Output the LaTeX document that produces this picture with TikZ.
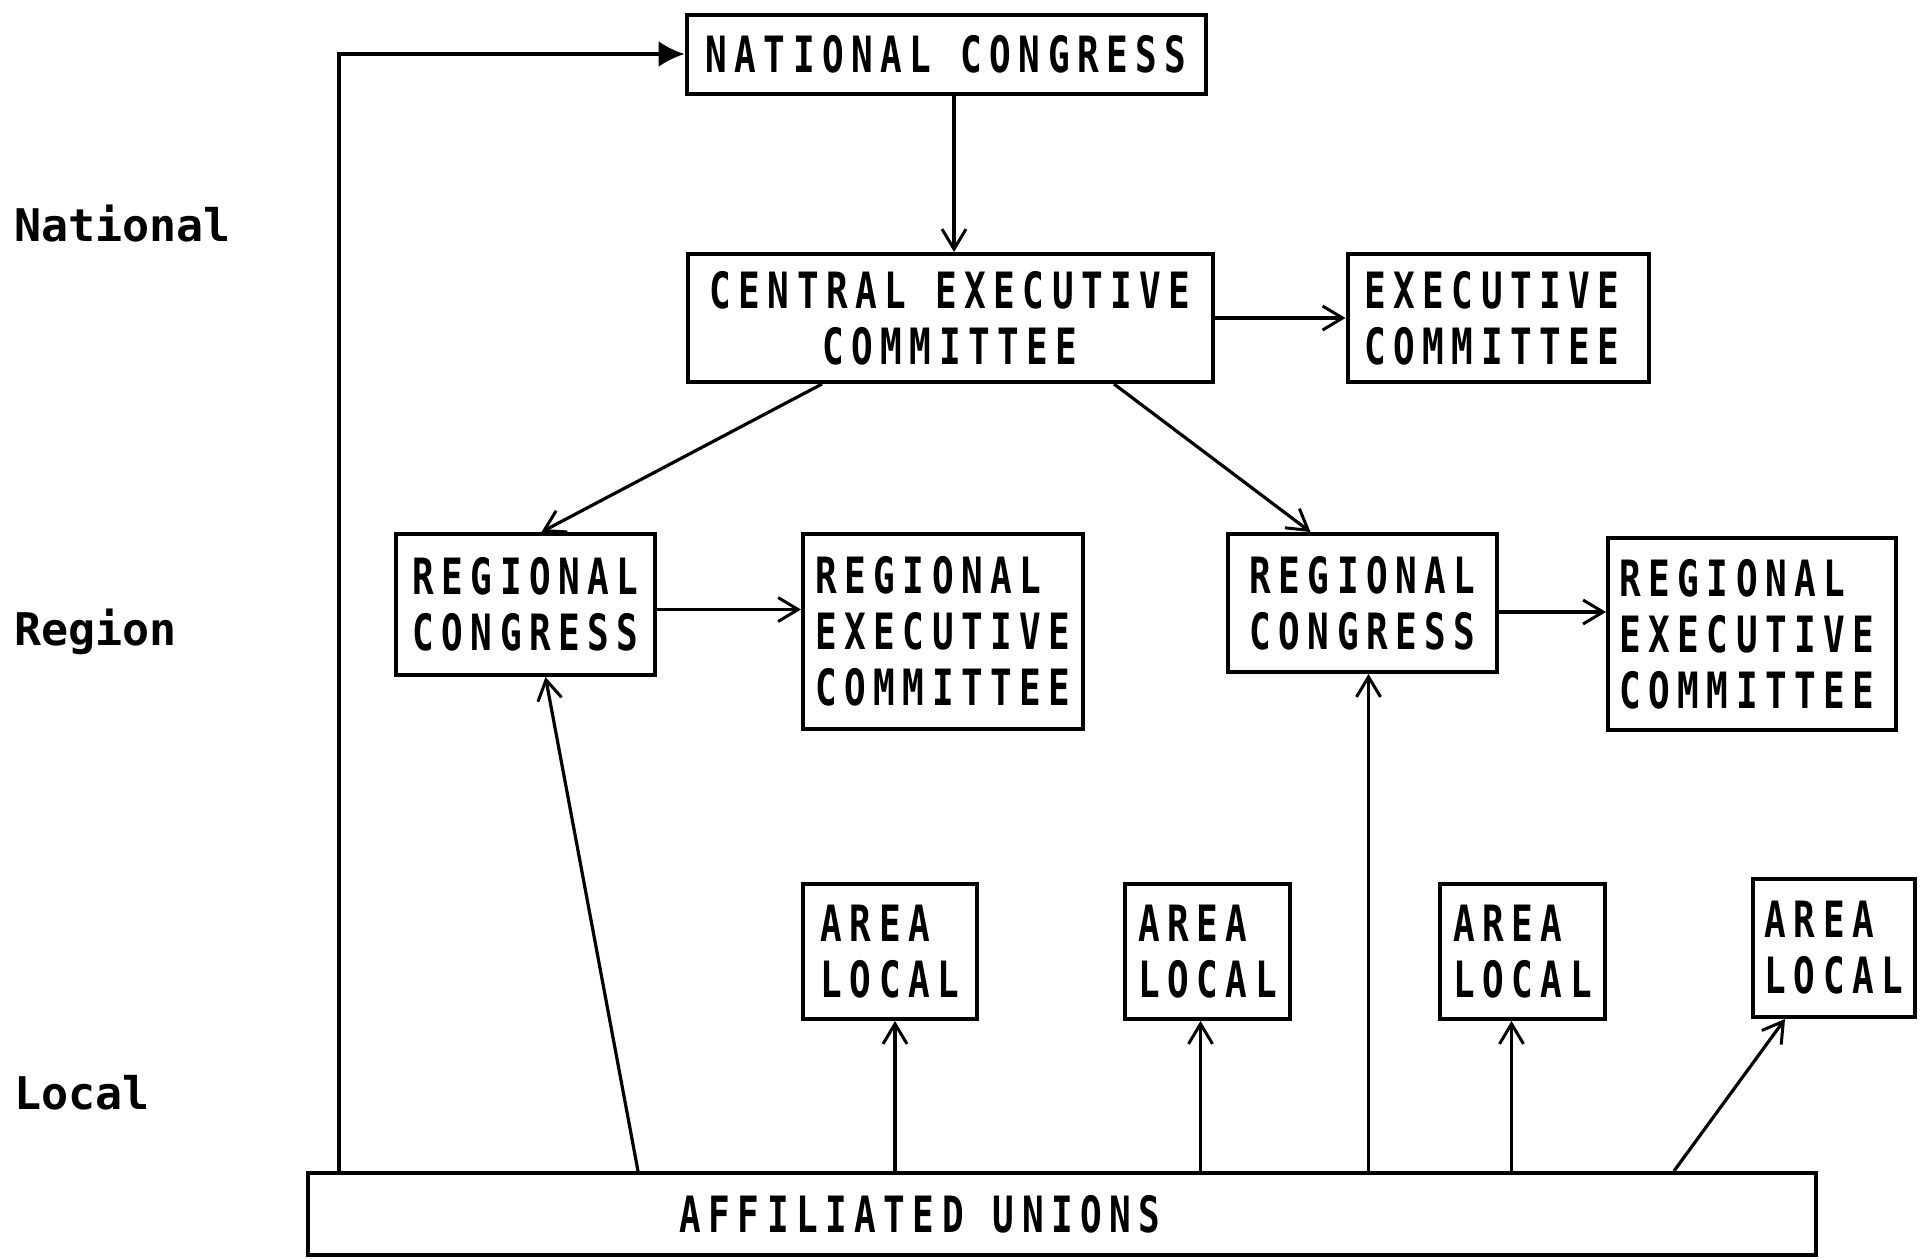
\documentclass[tikz,border=0pt]{standalone}
\usepackage{fontspec}
\usetikzlibrary{arrows.meta,calc}
% lettering for the boxes and the typewritten level names
\newfontfamily\boxfont[FakeStretch=0.72,LetterSpace=15]{DejaVu Sans Mono Bold}
\newfontfamily\levelfont{DejaVu Sans Mono Bold}

\begin{document}
\begin{tikzpicture}[x=1pt,y=-1pt,
  box/.style={draw, line width=4pt, rectangle, inner sep=0pt,
    font=\boxfont\fontsize{50pt}{56pt}\selectfont},
  level/.style={anchor=base west, inner sep=0pt,
    font=\levelfont\fontsize{45pt}{50pt}\selectfont},
  link/.style={line width=3.2pt,
    -{Straight Barb[length=20pt,width=24pt,line width=3pt]}},
  feed/.style={line width=3.2pt,
    -{Latex[length=26pt,width=26pt]}},
]
\useasboundingbox (0,0) rectangle (1930,1259);

% level names
\node[level] (lnat) at (14,241) {National};
\node[level] (lreg) at (14,645) {Region};
\node[level] (lloc) at (14,1109) {Local};

% national level
\node[box, minimum width=519pt, minimum height=79pt] (nc) at (946,54) {NATIONAL CONGRESS};
\node[box, align=center, minimum width=525pt, minimum height=128pt] (cec) at (950,318)
  {CENTRAL EXECUTIVE\\COMMITTEE};
\node[box, align=left, minimum width=301pt, minimum height=128pt] (ec) at (1498,318)
  {EXECUTIVE\hspace*{12pt}\\COMMITTEE\hspace*{12pt}};

% regional level
\node[box, align=left, minimum width=259pt, minimum height=141pt] (rc1) at (525.5,604.5)
  {REGIONAL\\CONGRESS};
\node[box, align=left, minimum width=280pt, minimum height=195pt] (rec1) at (943,631.5)
  {REGIONAL\\EXECUTIVE\\COMMITTEE};
\node[box, align=left, minimum width=269pt, minimum height=138pt] (rc2) at (1362.5,603)
  {REGIONAL\\CONGRESS};
\node[box, align=left, minimum width=288pt, minimum height=192pt] (rec2) at (1752,634)
  {REGIONAL\\EXECUTIVE\\COMMITTEE\hspace*{10pt}};

% local level
\node[box, align=left, minimum width=174pt, minimum height=135pt] (al1) at (890,951.5) {AREA\\LOCAL};
\node[box, align=left, minimum width=165pt, minimum height=135pt] (al2) at (1207.5,951.5) {AREA\\LOCAL};
\node[box, align=left, minimum width=165pt, minimum height=135pt] (al3) at (1522.5,951.5) {AREA\\LOCAL};
\node[box, align=left, minimum width=162pt, minimum height=138pt] (al4) at (1834,948) {AREA\\LOCAL};

\node[box, minimum width=1508pt, minimum height=82pt] (au) at (1062,1214)
  {AFFILIATED UNIONS\hspace*{284pt}};

% connectors
\draw[feed] ([xshift=33pt]au.north west) |- (nc.west);
\draw[link] ([xshift=8pt]nc.south) -- ([xshift=8pt]nc.south |- cec.north);
\draw[link] (cec.east) -- (cec.east -| ec.west);
\draw[link] ([xshift=-128pt]cec.south) -- ([xshift=16pt]rc1.north);
\draw[link] ([xshift=164pt]cec.south) -- ([xshift=-52pt]rc2.north);
\draw[link] ([yshift=-5pt]rc1.east) -- ([yshift=-5pt]rc1.east -| rec1.west);
\draw[link] ([yshift=-9pt]rc2.east) -- ([yshift=-9pt]rc2.east -| rec2.west);
\draw[link] ([xshift=-424pt]au.north) -- ([xshift=20pt]rc1.south);
\draw[link] ([xshift=6pt]rc2.south |- au.north) -- ([xshift=6pt]rc2.south);
\draw[link] ([xshift=5pt]al1.south |- au.north) -- ([xshift=5pt]al1.south);
\draw[link] ([xshift=-7pt]al2.south |- au.north) -- ([xshift=-7pt]al2.south);
\draw[link] ([xshift=-11pt]al3.south |- au.north) -- ([xshift=-11pt]al3.south);
\draw[link] ([xshift=612pt]au.north) -- ([xshift=-49pt]al4.south);
\end{tikzpicture}
\end{document}
